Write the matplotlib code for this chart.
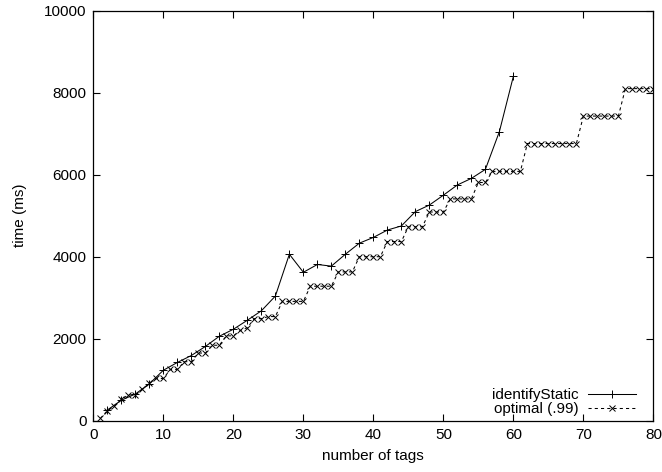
import matplotlib
matplotlib.use("Agg")
import matplotlib.pyplot as plt
import numpy as np

plt.rcParams['font.family'] = ['Liberation Sans', 'DejaVu Sans']
plt.rcParams['font.size'] = 11

# identifyStatic: measured at even tag counts
static_tags = np.arange(2, 61, 2)
static_ms = [260, 500, 650, 900, 1230, 1420, 1590, 1810, 2060, 2230,
             2450, 2680, 3040, 4060, 3620, 3810, 3770, 4060, 4330, 4470,
             4650, 4750, 5100, 5260, 5500, 5750, 5910, 6130, 7050, 8400]

# optimal (.99): every tag count 1..80
optimal_tags = np.arange(1, 81)
optimal_ms = [55, 245, 360, 520, 630, 630, 765, 910, 1030, 1030,
              1250, 1250, 1440, 1440, 1650, 1650, 1840, 1840, 2070, 2070,
              2200, 2270, 2490, 2490, 2540, 2540, 2910, 2910, 2910, 2910,
              3280, 3280, 3280, 3280, 3630, 3630, 3630, 4000, 4000, 4000,
              4000, 4370, 4370, 4370, 4730, 4730, 4730, 5090, 5090, 5090,
              5410, 5410, 5410, 5410, 5810, 5810, 6080, 6080, 6080, 6080,
              6080, 6760, 6760, 6760, 6760, 6760, 6760, 6760, 6760, 7430,
              7430, 7430, 7430, 7430, 7430, 8100, 8100, 8100, 8100, 8100]

fig = plt.figure(figsize=(6.62, 4.72), dpi=100)
ax = fig.add_axes([0.141, 0.1087, 0.846, 0.8686])

ax.plot(static_tags, static_ms, color='black', linewidth=0.75, marker='+',
        markersize=6, markeredgewidth=0.7, label='identifyStatic')
ax.plot(optimal_tags, optimal_ms, color='black', linewidth=0.75, marker='x',
        markersize=4.5, markeredgewidth=0.7, linestyle=(0, (3, 3)),
        label='optimal (.99)')

ax.set_xlim(0, 80)
ax.set_ylim(0, 10000)
ax.set_xticks(np.arange(0, 81, 10))
ax.set_yticks(np.arange(0, 10001, 2000))
ax.tick_params(direction='in', top=True, right=True, length=5, width=0.8, pad=5)
for s in ax.spines.values():
    s.set_linewidth(0.9)

ax.set_xlabel('number of tags', labelpad=5)
ax.set_ylabel('time (ms)', labelpad=12)

ax.legend(loc='lower right', frameon=False, markerfirst=False,
          handlelength=3.2, handletextpad=0.6, labelspacing=0.0,
          borderaxespad=0.1, borderpad=0.2, fontsize=11,
          bbox_to_anchor=(0.978, 0.0))

fig.savefig('out.png', dpi=100)
